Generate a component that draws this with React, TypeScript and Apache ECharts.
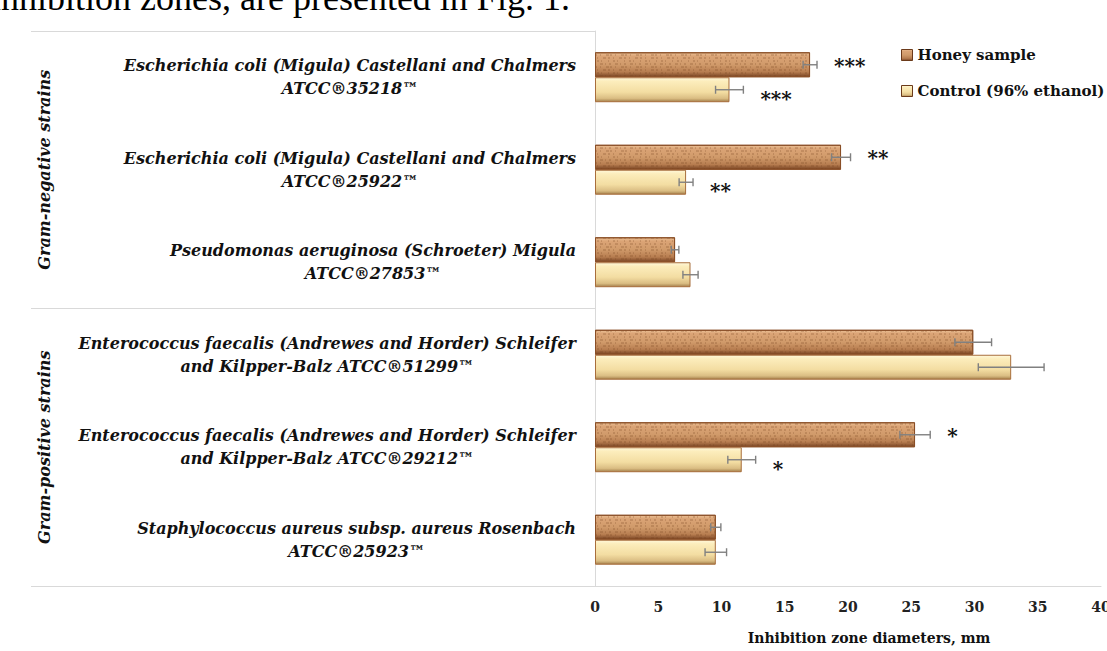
import { useEffect, useRef } from "react";
import * as echarts from "echarts";

// Test strains, listed top to bottom
const strains = [
  "Escherichia coli (Migula) Castellani and Chalmers\nATCC®35218™",
  "Escherichia coli (Migula) Castellani and Chalmers\nATCC®25922™",
  "Pseudomonas aeruginosa (Schroeter) Migula\nATCC®27853™",
  "Enterococcus faecalis (Andrewes and Horder) Schleifer\nand Kilpper-Balz ATCC®51299™",
  "Enterococcus faecalis (Andrewes and Horder) Schleifer\nand Kilpper-Balz ATCC®29212™",
  "Staphylococcus aureus subsp. aureus Rosenbach\nATCC®25923™",
];
const strainGroups = ["Gram-negative strains", "Gram-positive strains"];
const groupBreakIndex = 3; // first Gram-positive strain

const seriesNames = ["Honey sample", "Control (96% ethanol)"];

// Inhibition zone diameters, mm (mean and error)
const honeyMean = [17.0, 19.45, 6.33, 29.9, 25.3, 9.55];
const honeyErr = [0.55, 0.75, 0.3, 1.45, 1.2, 0.4];
const controlMean = [10.63, 7.2, 7.55, 32.9, 11.6, 9.55];
const controlErr = [1.1, 0.55, 0.6, 2.6, 1.1, 0.85];

// Significance marks
const honeySig = ["***", "**", "", "", "*", ""];
const controlSig = ["***", "**", "", "", "*", ""];

const axisMin = 0;
const axisMax = 40;
const axisStep = 5;

const SERIF = "'DejaVu Serif', 'Liberation Serif', serif";
const BAR_FRAC = 0.27;

const honeyFill = new echarts.graphic.LinearGradient(0, 0, 0, 1, [
  { offset: 0, color: "#ECC196" },
  { offset: 0.14, color: "#DBA476" },
  { offset: 0.5, color: "#D09A6A" },
  { offset: 0.8, color: "#B77D50" },
  { offset: 1, color: "#7A4524" },
]);
const controlFill = new echarts.graphic.LinearGradient(0, 0, 0, 1, [
  { offset: 0, color: "#FFF8DA" },
  { offset: 0.15, color: "#FCEDBC" },
  { offset: 0.6, color: "#F3DDA2" },
  { offset: 0.86, color: "#DABD83" },
  { offset: 1, color: "#A4804C" },
]);

// Speckled cork-like texture laid over the honey bars
const honeyTexture = {
  symbol: "rect",
  symbolSize: 1,
  color: "rgba(115, 62, 28, 0.22)",
  dashArrayX: [
    [2, 3, 1, 5, 3, 2],
    [1, 4, 2, 2, 1, 6],
    [3, 2, 1, 3, 2, 4],
    [1, 5, 3, 1, 2, 3],
  ],
  dashArrayY: [2, 1],
  rotation: 0,
  maxTileWidth: 256,
  maxTileHeight: 256,
};

function errorSeries(
  name: string,
  means: number[],
  errs: number[],
  sig: string[],
  side: number
) {
  return {
    type: "custom",
    name: name + " error",
    yAxisIndex: 0,
    z: 5,
    silent: true,
    encode: { x: 0, y: 1 },
    data: means.map((m, i) => [m, i, errs[i]]),
    renderItem: (params: any, api: any) => {
      const i = params.dataIndex;
      const v = api.value(0);
      const cat = api.value(1);
      const e = api.value(2);
      const band = api.size([0, 1])[1];
      const y = api.coord([v, cat])[1] + (side * band * BAR_FRAC) / 2;
      const xl = api.coord([v - e, cat])[0];
      const xr = api.coord([v + e, cat])[0];
      const cap = 4;
      const style = { stroke: "#808080", lineWidth: 1.4 };
      const children: any[] = [
        { type: "line", shape: { x1: xl, y1: y, x2: xr, y2: y }, style },
        { type: "line", shape: { x1: xl, y1: y - cap, x2: xl, y2: y + cap }, style },
        { type: "line", shape: { x1: xr, y1: y - cap, x2: xr, y2: y + cap }, style },
      ];
      if (sig[i]) {
        children.push({
          type: "text",
          x: xr + 17,
          y: y + (side < 0 ? 1 : 9),
          style: {
            text: sig[i],
            fill: "#111",
            fontFamily: SERIF,
            fontWeight: "bold",
            fontSize: 20,
            align: "left",
            verticalAlign: "middle",
          },
        });
      }
      return { type: "group", children };
    },
  };
}

export default function App() {
  const ref = useRef<HTMLDivElement>(null);

  useEffect(() => {
    if (!ref.current) return;
    const chart = echarts.init(ref.current, undefined, { renderer: "svg" });

    const option: any = {
      animation: false,
      backgroundColor: "#ffffff",
      textStyle: { fontFamily: SERIF },
      graphic: [
        {
          type: "text",
          x: -9,
          y: -2,
          style: {
            text: "inhibition zones, are presented in Fig. 1.",
            fontFamily: "'Liberation Serif', serif",
            fontSize: 36,
            fill: "#000",
            verticalAlign: "middle",
          },
        },
      ],
      legend: {
        data: seriesNames,
        orient: "vertical",
        left: 896,
        top: 40,
        itemWidth: 11,
        itemHeight: 11,
        itemGap: 16,
        icon: "rect",
        itemStyle: { borderColor: "#6B3A1A", borderWidth: 1, decal: "none" },
        textStyle: {
          fontFamily: SERIF,
          fontWeight: "bold",
          fontSize: 15,
          color: "#111",
          lineHeight: 20,
        },
      },
      grid: { left: 595, right: 6, top: 31, bottom: 65, outerBoundsMode: "none" },
      xAxis: {
        type: "value",
        min: axisMin,
        max: axisMax,
        interval: axisStep,
        axisLine: { show: true, lineStyle: { color: "#D9D9D9", width: 1 } },
        axisTick: { show: false },
        splitLine: { show: false },
        axisLabel: {
          margin: 14,
          fontFamily: SERIF,
          fontWeight: "bold",
          fontSize: 14,
          color: "#222",
        },
        name: "Inhibition zone diameters, mm",
        nameLocation: "middle",
        nameGap: 45,
        nameTextStyle: {
          fontFamily: SERIF,
          fontWeight: "bold",
          fontSize: 14,
          color: "#111",
          padding: [0, 0, 0, 42],
        },
      },
      yAxis: [
        {
          type: "category",
          data: strains,
          inverse: true,
          axisLine: { show: true, lineStyle: { color: "#D9D9D9", width: 1 } },
          axisTick: {
            show: true,
            length: 564,
            interval: (index: number) => index === 0 || index === groupBreakIndex,
            lineStyle: { color: "#D9D9D9", width: 1 },
          },
          axisLabel: {
            margin: 19,
            formatter: (v: string) =>
              v
                .split("\n")
                .map((l) => `{s|${l}}`)
                .join("\n"),
            rich: {
              s: {
                align: "center",
                fontFamily: SERIF,
                fontWeight: "bold",
                fontStyle: "italic",
                fontSize: 16,
                lineHeight: 23,
                color: "#111",
              },
            },
          },
        },
        {
          type: "category",
          data: strainGroups,
          inverse: true,
          position: "left",
          offset: 543,
          axisLine: { show: false },
          axisTick: { show: false },
          axisLabel: {
            rotate: 90,
            margin: 0,
            fontFamily: SERIF,
            fontWeight: "bold",
            fontStyle: "italic",
            fontSize: 16,
            color: "#111",
          },
        },
      ],
      series: [
        {
          type: "bar",
          name: seriesNames[0],
          data: honeyMean,
          barWidth: `${BAR_FRAC * 100}%`,
          barGap: "0%",
          itemStyle: {
            color: honeyFill,
            borderColor: "#8A4F27",
            borderWidth: 1,
            decal: honeyTexture,
          },
        },
        {
          type: "bar",
          name: seriesNames[1],
          data: controlMean,
          barWidth: `${BAR_FRAC * 100}%`,
          barGap: "0%",
          itemStyle: { color: controlFill, borderColor: "#A86E3C", borderWidth: 1 },
        },
        errorSeries(seriesNames[0], honeyMean, honeyErr, honeySig, -1),
        errorSeries(seriesNames[1], controlMean, controlErr, controlSig, 1),
      ],
    };

    chart.setOption(option);
    return () => chart.dispose();
  }, []);

  return (
    <div
      ref={ref}
      style={{ position: "fixed", left: 0, top: 0, width: 1107, height: 651 }}
    />
  );
}
